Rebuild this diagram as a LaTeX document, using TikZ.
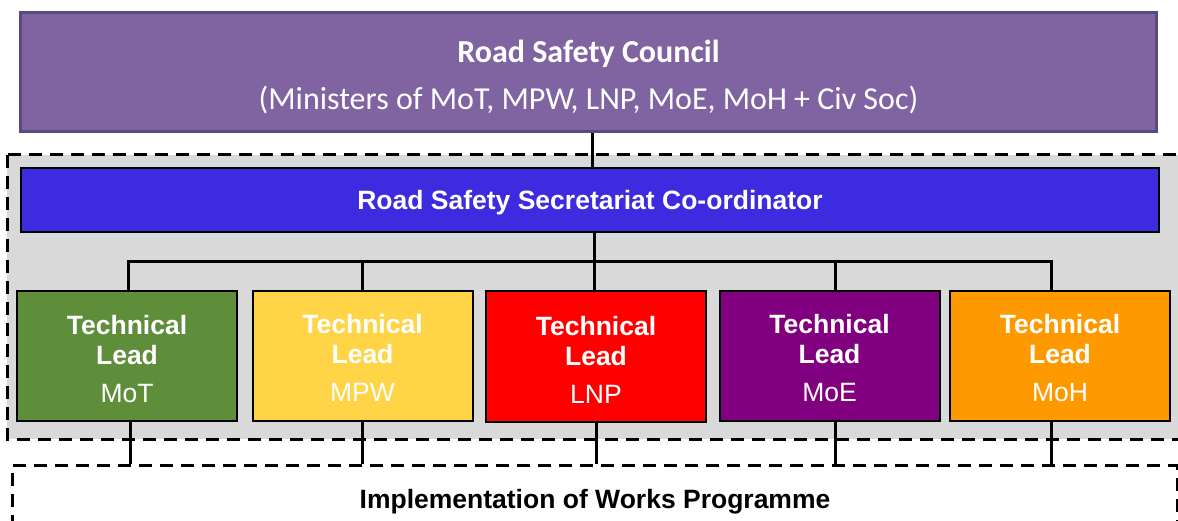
\documentclass[tikz,border=0pt]{standalone}
\usepackage{fontspec}
\usetikzlibrary{calc}
\setmainfont{Liberation Sans}
\newfontfamily\calibri{Carlito}
\definecolor{cpurple}{HTML}{8064A2}
\definecolor{cpurpleB}{HTML}{5C4A7D}
\definecolor{cblue}{HTML}{3D2BE0}
\definecolor{cgreen}{HTML}{5E8E3A}
\definecolor{cyellow}{HTML}{FFD447}
\definecolor{cred}{HTML}{FF0000}
\definecolor{cmagenta}{HTML}{800080}
\definecolor{corange}{HTML}{FF9900}
\definecolor{cgray}{HTML}{D9D9D9}
\begin{document}
\begin{tikzpicture}[x=1pt,y=-1pt,
  council/.style={draw=cpurpleB,line width=3pt,fill=cpurple,minimum width=1136pt,minimum height=119pt,inner sep=0pt},
  secbox/.style={draw=black,line width=2pt,fill=cblue,minimum width=1138pt,minimum height=64pt,inner sep=0pt},
  lead/.style={draw=black,line width=2pt,minimum width=220pt,minimum height=130pt,inner sep=0pt},
  leadtxt/.style={text=white,align=center,inner sep=0pt,font=\fontsize{26.5}{30}\selectfont},
  dashbox/.style={draw=black,line width=3pt,dash pattern=on 13pt off 8pt},
  conn/.style={draw=black,line width=3pt}]
\useasboundingbox (0,0) rectangle (1178,521);
% grey secretariat area
\draw[dashbox,fill=cgray] (7,155) rectangle (1200,439);
% implementation box
\node[dashbox,minimum width=1165pt,minimum height=120pt,anchor=north] (impl) at (594.5,464) {};
\node[font=\bfseries\fontsize{26.5}{30}\selectfont] (impltxt) at (595,502) {Implementation of Works Programme};
% council
\node[council] (rsc) at (588.5,72) {};
\node[font=\calibri\fontsize{32}{38}\selectfont,text=white,align=center] (rsctxt) at (588.5,77) {{\bfseries Road Safety Council}\\[9pt](Ministers of MoT, MPW, LNP, MoE, MoH + Civ Soc)};
% secretariat
\node[secbox] (sec) at (590,200) {};
\node[text=white,font=\bfseries\fontsize{26.5}{30}\selectfont] (sectxt) at (590,203) {Road Safety Secretariat Co-ordinator};
% technical leads
\node[lead,fill=cgreen] (mot) at (127,356) {};
\node[lead,fill=cyellow] (mpw) at (362.5,356) {};
\node[lead,fill=cred] (lnp) at (596,356.5) {};
\node[lead,fill=cmagenta] (moe) at (829.5,356) {};
\node[lead,fill=corange] (moh) at (1060,356) {};
\node[leadtxt] (mottxt) at ($(mot.center)+(0,3)$) {\textbf{Technical}\\\textbf{Lead}\\[8pt]MoT};
\node[leadtxt] (mpwtxt) at ($(mpw.center)+(0,2)$) {\textbf{Technical}\\\textbf{Lead}\\[8pt]MPW};
\node[leadtxt] (lnptxt) at ($(lnp.center)+(0,3)$) {\textbf{Technical}\\\textbf{Lead}\\[8pt]LNP};
\node[leadtxt] (moetxt) at ($(moe.center)+(0,2)$) {\textbf{Technical}\\\textbf{Lead}\\[8pt]MoE};
\node[leadtxt] (mohtxt) at ($(moh.center)+(0,2)$) {\textbf{Technical}\\\textbf{Lead}\\[8pt]MoH};
% connectors
\coordinate (bus) at (594,262);
\draw[conn] (rsc.south -| 592,0) -- (sec.north -| 592,0);
\draw[conn] (sec.south -| bus) -- (bus);
\draw[conn] (mot.north -| 128,0) -- (128,262) -- (1051,262) -- (moh.north -| 1051,0);
\draw[conn] (mpw.north) -- (mpw.north |- bus);
\draw[conn] (lnp.north -| bus) -- (bus);
\draw[conn] (moe.north -| 835,0) -- (835,262);
% down to implementation
\draw[conn] (mot.south -| 130,0) -- (130,464);
\draw[conn] (mpw.south) -- (mpw.south |- impl.north);
\draw[conn] (lnp.south) -- (lnp.south |- impl.north);
\draw[conn] (moe.south -| 835,0) -- (835,464);
\draw[conn] (moh.south -| 1051,0) -- (1051,464);
\end{tikzpicture}
\end{document}
